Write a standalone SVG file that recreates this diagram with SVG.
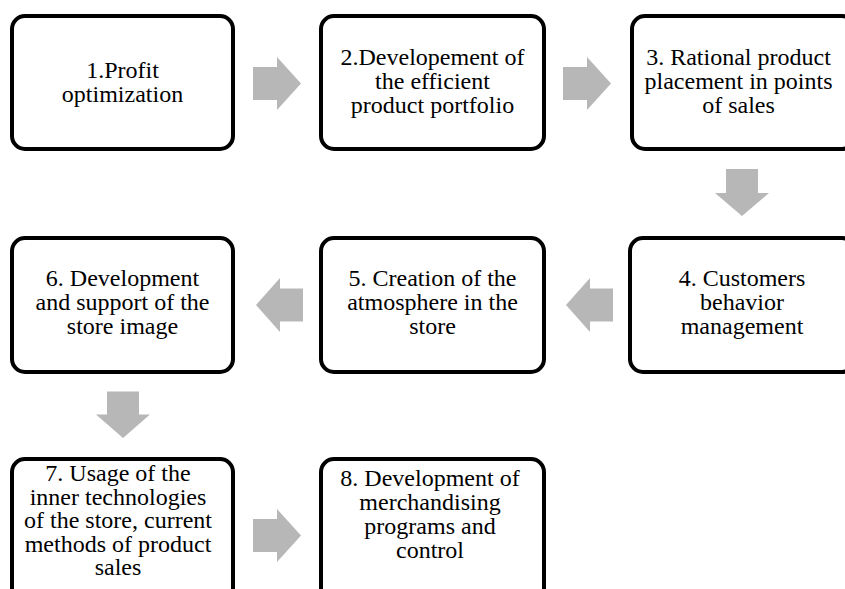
<svg xmlns="http://www.w3.org/2000/svg" width="845" height="589" viewBox="0 0 845 589">
  <style>
    .box { fill: #ffffff; stroke: #000000; stroke-width: 4; }
    .arrow { fill: #b7b7b7; stroke: none; }
    .label { font-size: 24px; fill: #000000; text-anchor: middle; }
  </style>
  <rect width="845" height="589" fill="#ffffff"/>

  <!-- block arrows between the steps -->
  <g id="connectors">
    <polygon class="arrow" points="253,67 277,67 277,57 301,83.5 277,110 277,100 253,100"/>
    <polygon class="arrow" points="563,67 587,67 587,57 611,83.5 587,110 587,100 563,100"/>
    <polygon class="arrow" points="726,169 758,169 758,193 769,193 742,216 715,193 726,193"/>
    <polygon class="arrow" points="613,288.5 590,288.5 590,278 566,305 590,332 590,321.5 613,321.5"/>
    <polygon class="arrow" points="303,288.5 280,288.5 280,278 256,305 280,332 280,321.5 303,321.5"/>
    <polygon class="arrow" points="107,391.5 139,391.5 139,414.5 150,414.5 123,438 96,414.5 107,414.5"/>
    <polygon class="arrow" points="253,519 277,519 277,509 301,535.5 277,562 277,552 253,552"/>
  </g>

  <g font-family="Liberation Serif, DejaVu Serif, serif">
  <g id="step1">
    <rect class="box" x="12" y="16" width="221" height="133" rx="13"/>
    <text class="label"><tspan x="122.5" y="78">1.Profit</tspan><tspan x="122.5" y="102">optimization</tspan></text>
  </g>

  <g id="step2">
    <rect class="box" x="321" y="16" width="223" height="133" rx="13"/>
    <text class="label"><tspan x="432.5" y="65">2.Developement of</tspan><tspan x="432.5" y="89">the efficient</tspan><tspan x="432.5" y="113">product portfolio</tspan></text>
  </g>

  <g id="step3">
    <rect class="box" x="632" y="16" width="223" height="133" rx="13"/>
    <text class="label"><tspan x="738.5" y="65">3. Rational product</tspan><tspan x="738.5" y="89">placement in points</tspan><tspan x="738.5" y="113">of sales</tspan></text>
  </g>

  <g id="step4">
    <rect class="box" x="630" y="238" width="225" height="134" rx="13"/>
    <text class="label"><tspan x="742" y="286">4. Customers</tspan><tspan x="742" y="310">behavior</tspan><tspan x="742" y="334">management</tspan></text>
  </g>

  <g id="step5">
    <rect class="box" x="321" y="238" width="223" height="134" rx="13"/>
    <text class="label"><tspan x="432.5" y="286">5. Creation of the</tspan><tspan x="432.5" y="310">atmosphere in the</tspan><tspan x="432.5" y="334">store</tspan></text>
  </g>

  <g id="step6">
    <rect class="box" x="12" y="238" width="221" height="134" rx="13"/>
    <text class="label"><tspan x="122.5" y="286">6. Development</tspan><tspan x="122.5" y="310">and support of the</tspan><tspan x="122.5" y="334">store image</tspan></text>
  </g>

  <g id="step7">
    <rect class="box" x="12" y="459" width="221" height="150" rx="13"/>
    <text class="label"><tspan x="118" y="481">7. Usage of the</tspan><tspan x="118" y="504.5">inner technologies</tspan><tspan x="118" y="528">of the store, current</tspan><tspan x="118" y="551.5">methods of product</tspan><tspan x="118" y="575">sales</tspan></text>
  </g>

  <g id="step8">
    <rect class="box" x="321" y="459" width="223" height="150" rx="13"/>
    <text class="label"><tspan x="430" y="486">8. Development of</tspan><tspan x="430" y="510">merchandising</tspan><tspan x="430" y="534">programs and</tspan><tspan x="430" y="558">control</tspan></text>
  </g>
  </g>
</svg>
